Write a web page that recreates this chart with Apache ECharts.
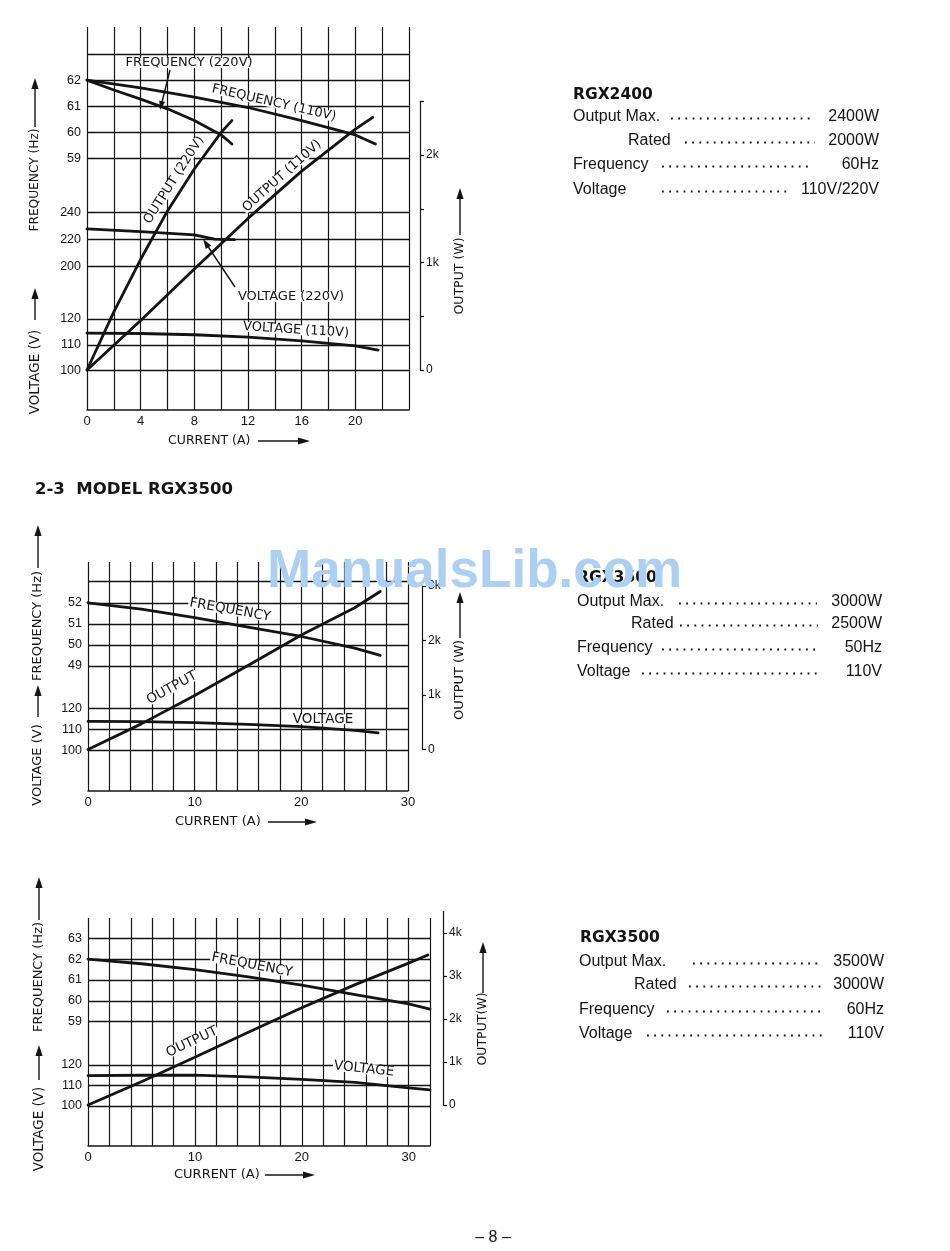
<!DOCTYPE html>
<html><head><meta charset="utf-8">
<script src="https://cdn.jsdelivr.net/npm/echarts@6/dist/echarts.min.js"></script>
<style>html,body{margin:0;padding:0;background:#fff}#c{width:950px;height:1251px}</style>
</head><body><div id="c"></div>
<script>
// ================= DATA =================
// Chart 1 : RGX2400 (x = current A)
const c1Freq110X = [0, 4, 8, 12, 16, 20, 21.5];
const c1Freq110  = [62, 61.7, 61.35, 60.95, 60.45, 59.9, 59.55];
const c1Freq220X = [0, 2, 4, 6, 8, 10, 10.8];
const c1Freq220  = [62, 61.62, 61.27, 60.9, 60.45, 59.9, 59.55];
const c1Out220X  = [0, 2, 4, 6, 8, 10, 10.8];
const c1Out220   = [0, 540, 1030, 1480, 1870, 2210, 2320];
const c1Out110X  = [0, 4, 8, 12, 16, 20, 21.3];
const c1Out110   = [0, 460, 940, 1410, 1850, 2240, 2350];
const c1Volt220X = [0, 4, 8, 9.5, 11];
const c1Volt220  = [228, 226, 223.5, 220.5, 220];
const c1Volt110X = [0, 4, 8, 12, 16, 20, 21.7];
const c1Volt110  = [114.5, 114.4, 113.9, 113.0, 111.5, 109.6, 108.0];
const c1XLabels = [0, 4, 8, 12, 16, 20];
const c1FreqLabels = [59, 60, 61, 62];
const c1VHighLabels = [200, 220, 240];
const c1VLowLabels = [100, 110, 120];
const c1OutLabels = [0, 1000, 2000];
const c1OutTicks = [0, 500, 1000, 1500, 2000, 2500];

// Chart 2 : RGX3500 50Hz
const c2X = [0, 5, 10, 15, 20, 25, 27.4];
const c2Freq = [52, 51.7, 51.3, 50.85, 50.4, 49.85, 49.5];
const c2Out  = [0, 470, 990, 1540, 2100, 2600, 2900];
const c2VoltX = [0, 5, 10, 15, 20, 25, 27.2];
const c2Volt = [113.8, 113.7, 113.2, 112.4, 111.4, 109.6, 108.4];
const c2XLabels = [0, 10, 20, 30];
const c2FreqLabels = [49, 50, 51, 52];
const c2VoltLabels = [100, 110, 120];
const c2OutLabels = [0, 1000, 2000, 3000];

// Chart 3 : RGX3500 60Hz
const c3X = [0, 5, 10, 15, 20, 25, 30, 32];
const c3Freq = [62, 61.78, 61.5, 61.15, 60.75, 60.3, 59.85, 59.6];
const c3OutX = [0, 5, 10, 15, 20, 25, 30, 31.8];
const c3Out  = [0, 540, 1110, 1690, 2260, 2800, 3300, 3490];
const c3Volt = [114.8, 115, 115.1, 114.2, 113, 111.5, 108.8, 107.9];
const c3XLabels = [0, 10, 20, 30];
const c3FreqLabels = [59, 60, 61, 62, 63];
const c3VoltLabels = [100, 110, 120];
const c3OutLabels = [0, 1000, 2000, 3000, 4000];

// Spec text
const spec1Title = 'RGX2400';
const spec1Labels = ['Output Max.', 'Rated', 'Frequency', 'Voltage'];
const spec1Values = ['2400W', '2000W', '60Hz', '110V/220V'];
const spec2Title = 'RGX3500';
const spec2Labels = ['Output Max.', 'Rated', 'Frequency', 'Voltage'];
const spec2Values = ['3000W', '2500W', '50Hz', '110V'];
const spec3Title = 'RGX3500';
const spec3Labels = ['Output Max.', 'Rated', 'Frequency', 'Voltage'];
const spec3Values = ['3500W', '3000W', '60Hz', '110V'];

// ================= BUILD =================
const INK = '#141414';
const SANS = '"Liberation Sans", Arial, Helvetica, sans-serif';
const WIDE = '"DejaVu Sans", Verdana, sans-serif';
const zip = (xs, ys) => xs.map((x, i) => [x, ys[i]]);

const grids = [
  {left: 87, top: 27, width: 322, height: 383},        // 0 c1 main
  {left: 87, top: 54, width: 322, height: 104.4},      // 1 c1 freq
  {left: 87, top: 212.7, width: 322, height: 54},      // 2 c1 volt 220
  {left: 87, top: 319, width: 322, height: 51.7},      // 3 c1 volt 110
  {left: 87, top: 101.25, width: 322, height: 268.75}, // 4 c1 output
  {left: 88, top: 562, width: 320, height: 229},       // 5 c2 main
  {left: 88, top: 581.7, width: 320, height: 84.3},    // 6 c2 freq
  {left: 88, top: 708.3, width: 320, height: 42.4},    // 7 c2 volt
  {left: 88, top: 586, width: 320, height: 163.5},     // 8 c2 output
  {left: 88, top: 918, width: 342, height: 228},       // 9 c3 main
  {left: 88, top: 938.3, width: 342, height: 83.4},    // 10 c3 freq
  {left: 88, top: 1065, width: 342, height: 41},       // 11 c3 volt
  {left: 88, top: 911.5, width: 342, height: 193.5}    // 12 c3 output
].map(g => Object.assign(g, {containLabel: false, outerBoundsMode: 'none'}));

const XMAX = [24,24,24,24,24,30,30,30,30,32,32,32,32];
const XLAB = {0: c1XLabels, 5: c2XLabels, 9: c3XLabels};

const xAxis = grids.map((g, i) => XLAB[i] ? {
  gridIndex: i, type: 'value', min: 0, max: XMAX[i], interval: 2,
  axisLine: {show: true, onZero: false, lineStyle: {color: INK, width: 1.5}},
  axisTick: {show: false},
  splitLine: {show: true, lineStyle: {color: INK, width: 1.2}},
  axisLabel: {color: INK, fontFamily: 'Liberation Sans', fontSize: 13, margin: 5,
    showMinLabel: true, showMaxLabel: true, hideOverlap: false,
    formatter: v => XLAB[i].includes(v) ? String(v) : ''}
} : {gridIndex: i, type: 'value', min: 0, max: XMAX[i], show: false});

function leftAxis(i, min, max, interval, labels) {
  return {gridIndex: i, type: 'value', position: 'left', min, max, interval,
    axisLine: {show: false, onZero: false}, axisTick: {show: false},
    splitLine: {show: true, lineStyle: {color: INK, width: 1.3}},
    axisLabel: {color: INK, fontFamily: 'Liberation Sans', fontSize: 12.5, margin: 6,
      showMinLabel: true, showMaxLabel: true,
      formatter: v => labels.includes(v) ? String(v) : ''}};
}
function rightAxis(i, max, interval, offset, labels, ticks) {
  return {gridIndex: i, type: 'value', position: 'right', offset, min: 0, max, interval,
    axisLine: {show: true, onZero: false, lineStyle: {color: INK, width: 1.2}},
    axisTick: {show: true, length: 4, inside: false, customValues: ticks,
      lineStyle: {color: INK, width: 1.2}},
    splitLine: {show: false},
    axisLabel: {color: INK, fontFamily: 'Liberation Sans', fontSize: 12, margin: 6,
      showMinLabel: true, showMaxLabel: true,
      formatter: v => labels.includes(v) ? (v === 0 ? '0' : (v / 1000) + 'k') : ''}};
}
const hidden = i => ({gridIndex: i, type: 'value', min: 0, max: 1, show: false});

const yAxis = [
  hidden(0),
  leftAxis(1, 59, 63, 1, c1FreqLabels),
  leftAxis(2, 200, 240, 20, c1VHighLabels),
  leftAxis(3, 100, 120, 10, c1VLowLabels),
  rightAxis(4, 2500, 500, 11, c1OutLabels, c1OutTicks),
  hidden(5),
  leftAxis(6, 49, 53, 1, c2FreqLabels),
  leftAxis(7, 100, 120, 10, c2VoltLabels),
  rightAxis(8, 3000, 1000, 14, c2OutLabels, c2OutLabels),
  hidden(9),
  leftAxis(10, 59, 63, 1, c3FreqLabels),
  leftAxis(11, 100, 120, 10, c3VoltLabels),
  rightAxis(12, 4500, 1000, 13, c3OutLabels, c3OutLabels)
];

function ln(name, xs, ys, gi) {
  return {name, type: 'line', xAxisIndex: gi, yAxisIndex: gi, data: zip(xs, ys),
    showSymbol: false, symbol: 'none', smooth: false, clip: false,
    silent: true, z: 5, lineStyle: {color: INK, width: 2.8, cap: 'round', join: 'round'}};
}
const series = [
  ln('Frequency 110V', c1Freq110X, c1Freq110, 1),
  ln('Frequency 220V', c1Freq220X, c1Freq220, 1),
  ln('Voltage 220V', c1Volt220X, c1Volt220, 2),
  ln('Voltage 110V', c1Volt110X, c1Volt110, 3),
  ln('Output 220V', c1Out220X, c1Out220, 4),
  ln('Output 110V', c1Out110X, c1Out110, 4),
  ln('Frequency', c2X, c2Freq, 6),
  ln('Voltage', c2VoltX, c2Volt, 7),
  ln('Output', c2X, c2Out, 8),
  ln('Frequency', c3X, c3Freq, 10),
  ln('Voltage', c3X, c3Volt, 11),
  ln('Output', c3OutX, c3Out, 12)
];

// ---------- graphics ----------
const gr = [];
function txt(x, y, s, o) {
  o = o || {};
  const st = {text: s, font: o.font || ('13px ' + WIDE), fill: INK,
    align: o.align || 'center', textAlign: o.align || 'center',
    verticalAlign: 'middle', textVerticalAlign: 'middle'};
  if (o.bg) { st.backgroundColor = '#fff'; st.lineHeight = o.lh || 10; st.padding = [0, 1]; }
  gr.push({type: 'text', x, y, rotation: o.rot || 0, z: 60, silent: true, style: st});
}
function arrow(x1, y1, x2, y2, head, half, w) {
  head = head || 11; half = half || 3.6; w = w || 1.4;
  const dx = x2 - x1, dy = y2 - y1, L = Math.hypot(dx, dy), ux = dx / L, uy = dy / L;
  const bx = x2 - ux * head, by = y2 - uy * head;
  gr.push({type: 'line', z: 60, silent: true, shape: {x1, y1, x2: bx + ux, y2: by + uy},
    style: {stroke: INK, lineWidth: w}});
  gr.push({type: 'polygon', z: 60, silent: true,
    shape: {points: [[x2, y2], [bx - uy * half, by + ux * half], [bx + uy * half, by - ux * half]]},
    style: {fill: INK}});
}
const R90 = Math.PI / 2;

// Chart 1 titles
arrow(35, 127, 35, 78); txt(35, 180, 'FREQUENCY (Hz)', {rot: R90, font: '12.2px ' + WIDE});
arrow(35, 320, 35, 288); txt(35, 372, 'VOLTAGE (V)', {rot: R90, font: '13.5px ' + WIDE});
arrow(460, 235, 460, 188); txt(460, 276, 'OUTPUT (W)', {rot: R90, font: '12.5px ' + WIDE});
txt(168, 441, 'CURRENT (A)', {align: 'left', font: '12.5px ' + WIDE}); arrow(258, 441, 310, 441, 12, 3.6);
// Chart 1 annotations
txt(189, 63, 'FREQUENCY (220V)', {bg: true});
arrow(170, 70, 160, 110, 9, 3);
txt(274, 103, 'FREQUENCY (110V)', {rot: -0.225, bg: true});
txt(174, 180, 'OUTPUT (220V)', {rot: 1.005, bg: true});
txt(282, 176, 'OUTPUT (110V)', {rot: 0.73, bg: true});
txt(291, 297, 'VOLTAGE (220V)', {bg: true});
arrow(235, 287, 203, 239, 10, 3.2);
txt(296, 330, 'VOLTAGE (110V)', {rot: -0.063, bg: true});

// Heading
txt(35, 490, '2-3  MODEL RGX3500', {align: 'left', font: 'bold 16.5px ' + WIDE});

// Chart 2 titles
arrow(38, 568, 38, 525); txt(38, 626, 'FREQUENCY (Hz)', {rot: R90, font: '13px ' + WIDE});
arrow(38, 717, 38, 685); txt(38, 765, 'VOLTAGE (V)', {rot: R90, font: '13px ' + WIDE});
arrow(460, 638, 460, 592); txt(460, 680, 'OUTPUT (W)', {rot: R90, font: '13px ' + WIDE});
txt(175, 822, 'CURRENT (A)', {align: 'left', font: '13px ' + WIDE}); arrow(268, 822, 317, 822, 12, 3.6);
txt(230, 610, 'FREQUENCY', {rot: -0.178, bg: true, font: '13.5px ' + WIDE});
txt(172, 688, 'OUTPUT', {rot: 0.5, bg: true, font: '13.5px ' + WIDE});
txt(323, 719, 'VOLTAGE', {bg: true, font: '13.5px ' + WIDE});

// Chart 3 titles
arrow(39, 920, 39, 877); txt(39, 977, 'FREQUENCY (Hz)', {rot: R90, font: '13px ' + WIDE});
arrow(39, 1080, 39, 1045); txt(39, 1129, 'VOLTAGE (V)', {rot: R90, font: '13.5px ' + WIDE});
arrow(483, 993, 483, 942); txt(483, 1029, 'OUTPUT(W)', {rot: R90, font: '12.5px ' + WIDE});
txt(174, 1175, 'CURRENT (A)', {align: 'left', font: '13px ' + WIDE}); arrow(265, 1175, 315, 1175, 12, 3.6);
txt(252, 965, 'FREQUENCY', {rot: -0.19, bg: true, font: '13.5px ' + WIDE});
txt(192, 1042, 'OUTPUT', {rot: 0.44, bg: true, font: '13.5px ' + WIDE});
txt(364, 1069, 'VOLTAGE', {rot: -0.11, bg: true, font: '13.5px ' + WIDE});

// Spec blocks
function spec(title, labels, values, L) {
  txt(L.tx, L.ty, title, {align: 'left', font: 'bold 15.5px ' + WIDE});
  labels.forEach((lab, k) => {
    const y = L.rows[k];
    txt(L.lx[k], y, lab, {align: 'left', font: '16px ' + SANS});
    gr.push({type: 'line', z: 60, silent: true,
      shape: {x1: L.dots[k][0], y1: y + 1.5, x2: L.dots[k][1], y2: y + 1.5},
      style: {stroke: INK, lineWidth: 1.8, lineDash: [1.8, 5.4]}});
    txt(L.vr, y, values[k], {align: 'right', font: '16px ' + SANS});
  });
}
spec(spec1Title, spec1Labels, spec1Values, {tx: 573, ty: 95, rows: [117, 141, 165, 190],
  lx: [573, 628, 573, 573], dots: [[671, 815], [685, 815], [662, 811], [662, 790]], vr: 879});
spec(spec2Title, spec2Labels, spec2Values, {tx: 577, ty: 578, rows: [602, 624, 648, 672],
  lx: [577, 631, 577, 577], dots: [[679, 817], [680, 818], [662, 817], [642, 818]], vr: 882});
spec(spec3Title, spec3Labels, spec3Values, {tx: 580, ty: 938, rows: [962, 985, 1010, 1034],
  lx: [579, 634, 579, 579], dots: [[693, 822], [689, 822], [667, 822], [647, 822]], vr: 884});

// Page number
txt(493, 1238, '\u2013 8 \u2013', {font: '16px ' + SANS});

// Watermark
gr.push({type: 'text', x: 267, y: 572, z: 100, silent: true,
  style: {text: 'ManualsLib.com', font: 'bold 53px ' + SANS, fill: '#acd0f2',
    align: 'left', textAlign: 'left', verticalAlign: 'middle', textVerticalAlign: 'middle'}});

const chart = echarts.init(document.getElementById('c'), null, {renderer: 'canvas'});
chart.setOption({
  backgroundColor: '#fff',
  animation: false,
  grid: grids,
  xAxis, yAxis, series,
  graphic: {elements: gr}
});
</script>
</body></html>
